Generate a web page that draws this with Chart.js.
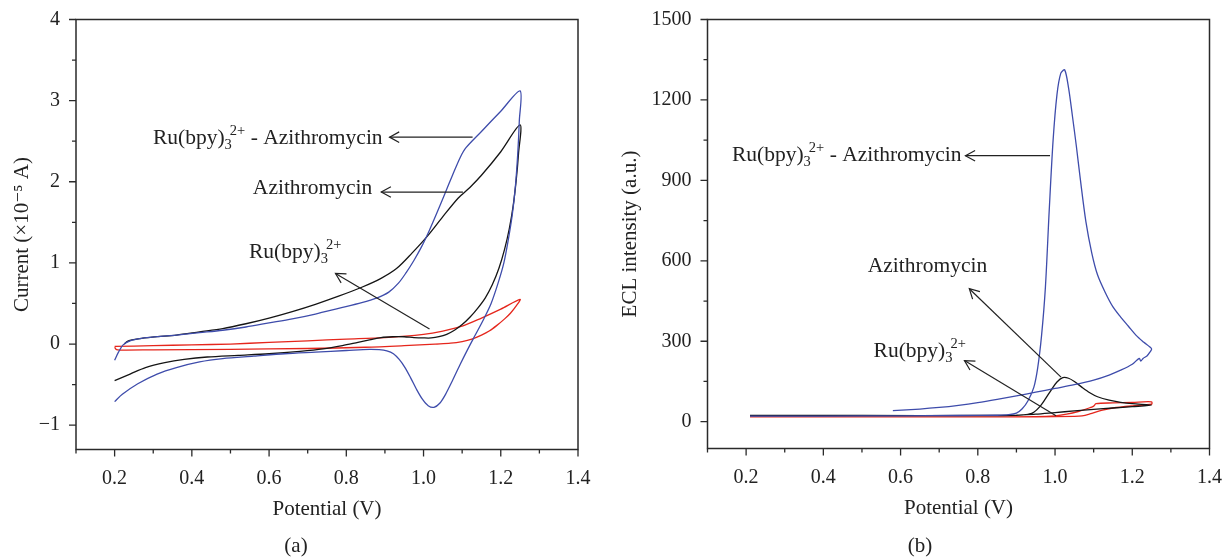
<!DOCTYPE html>
<html>
<head>
<meta charset="utf-8">
<script src="https://cdn.jsdelivr.net/npm/chart.js@4.4.1/dist/chart.umd.min.js"></script>
<style>
  html, body { margin: 0; padding: 0; background: #fff; }
  #wrap { position: relative; width: 1225px; height: 558px; }
  canvas { position: absolute; top: 0; }
  #chartA { left: 0; }
  #chartB { left: 612px; }
</style>
</head>
<body>
<div id="wrap">
  <canvas id="chartA" width="612" height="558"></canvas>
  <canvas id="chartB" width="613" height="558"></canvas>
</div>
<script>
// ---- panel (a): cyclic voltammograms, potential (V) / current (x1e-5 A)
// Ru(bpy)3 2+ + azithromycin (blue)
const cvMixV = [0.200,0.210,0.222,0.240,0.270,0.310,0.360,0.420,0.480,0.540,0.600,0.660,0.720,0.780,0.840,0.880,0.910,0.935,0.955,0.975,0.995,1.015,1.035,1.055,1.075,1.095,1.110,1.150,1.200,1.250,
  1.248,1.244,1.238,1.230,1.220,1.208,1.193,1.175,1.155,1.135,1.115,1.095,1.075,1.057,1.042,1.027,1.012,0.997,0.982,0.967,0.952,0.937,0.922,0.905,0.885,0.860,0.800,0.720,0.640,0.560,0.480,0.420,0.360,0.310,0.260,0.220,0.200];
const cvMixI = [-0.20,-0.10,-0.01,0.04,0.07,0.09,0.11,0.14,0.17,0.21,0.26,0.31,0.37,0.44,0.51,0.57,0.64,0.75,0.88,1.03,1.20,1.40,1.62,1.85,2.08,2.30,2.42,2.62,2.87,3.12,
  2.75,2.35,1.95,1.60,1.30,1.00,0.75,0.50,0.30,0.12,-0.06,-0.25,-0.45,-0.62,-0.73,-0.78,-0.76,-0.68,-0.56,-0.42,-0.29,-0.19,-0.12,-0.085,-0.07,-0.065,-0.08,-0.10,-0.12,-0.15,-0.18,-0.22,-0.29,-0.37,-0.49,-0.62,-0.71];
// azithromycin (black)
const cvAziV = [0.225,0.232,0.245,0.270,0.310,0.360,0.420,0.480,0.540,0.600,0.660,0.720,0.780,0.840,0.890,0.930,0.970,1.010,1.050,1.090,1.120,1.150,1.200,1.250,
  1.246,1.240,1.232,1.222,1.210,1.195,1.178,1.160,1.140,1.120,1.100,1.080,1.060,1.040,1.020,1.000,0.975,0.950,0.920,0.890,0.860,0.830,0.790,0.740,0.680,0.600,0.520,0.440,0.380,0.330,0.280,0.240,0.200];
const cvAziI = [0.00,0.03,0.05,0.07,0.09,0.11,0.15,0.19,0.25,0.32,0.40,0.49,0.59,0.70,0.81,0.93,1.12,1.33,1.57,1.80,1.93,2.08,2.37,2.70,
  2.35,2.02,1.70,1.42,1.17,0.93,0.73,0.57,0.44,0.33,0.24,0.17,0.12,0.09,0.075,0.075,0.08,0.09,0.09,0.08,0.05,0.02,-0.02,-0.06,-0.09,-0.12,-0.14,-0.16,-0.19,-0.23,-0.29,-0.37,-0.45];
// Ru(bpy)3 2+ alone (red)
const cvRuV = [0.200,0.300,0.400,0.500,0.600,0.700,0.800,0.900,1.000,1.050,1.100,1.150,1.200,1.250,
  1.240,1.225,1.210,1.190,1.170,1.150,1.125,1.100,1.070,1.030,0.950,0.850,0.700,0.500,0.300,0.215,0.205,0.200];
const cvRuI = [-0.03,-0.02,-0.01,0.00,0.02,0.04,0.06,0.08,0.12,0.16,0.22,0.32,0.43,0.55,
  0.47,0.38,0.31,0.23,0.16,0.11,0.06,0.03,0.01,0.00,-0.02,-0.04,-0.055,-0.065,-0.072,-0.075,-0.07,-0.04];

// ---- panel (b): ECL intensity (a.u.) vs potential (V)
const eclMixV = [0.210,0.400,0.600,0.750,0.850,0.880,0.900,0.915,0.930,0.945,0.955,0.965,0.975,0.985,0.995,1.005,1.015,1.025,1.035,1.045,1.055,1.065,1.080,1.095,1.110,1.130,1.150,1.170,1.190,1.210,1.230,1.250,
  1.246,1.238,1.228,1.222,1.218,1.200,1.170,1.140,1.100,1.050,1.000,0.950,0.900,0.850,0.800,0.750,0.700,0.650,0.580];
const eclMixE = [21,21,22,23,24,26,32,48,78,128,200,320,500,790,1050,1220,1300,1312,1245,1140,1030,910,745,630,548,482,428,390,356,322,296,272,
  260,245,236,226,236,214,192,174,155,138,124,110,96,83,71,61,53,47,41];
const eclAziV = [0.210,0.500,0.800,0.900,0.930,0.945,0.960,0.975,0.990,1.005,1.020,1.035,1.050,1.070,1.090,1.110,1.140,1.170,1.200,1.250,
  1.200,1.150,1.100,1.050,1.000,0.950,0.900];
const eclAziE = [23,23,23,24,27,35,55,85,118,148,164,162,150,128,108,93,80,72,67,62,
  56,51,46,40,34,28,24];
const eclRuV = [0.210,0.500,0.800,0.950,1.000,1.030,1.060,1.090,1.100,1.106,1.150,1.200,1.250,
  1.250,1.200,1.150,1.120,1.090,1.070,1.050,0.950,0.800];
const eclRuE = [18,18,18,19,22,28,38,52,58,67,70,72,74,
  65,59,51,42,29,22,20,18,18];

// axis tick labels
const potentialTicks = ['0.2', '0.4', '0.6', '0.8', '1.0', '1.2', '1.4'];
const currentTicks = ['\u22121', '0', '1', '2', '3', '4'];
const eclTicks = ['0', '300', '600', '900', '1200', '1500'];

const FONT = '"Liberation Serif", "Times New Roman", "DejaVu Serif", serif';
const INK = '#222';
const BLUE = '#3e4cab';
const BLACK = '#151515';
const RED = '#e5261c';

const RU_MIX = [{t: 'Ru(bpy)'}, {t: '3', sub: true}, {t: '2+', sup: true}, {t: ' - Azithromycin'}];
const RU = [{t: 'Ru(bpy)'}, {t: '3', sub: true}, {t: '2+', sup: true}];
const AZI = [{t: 'Azithromycin'}];

// text: anchor on baseline (left edge, or right edge when right: true),
// arrow: tail -> head; all in data units
const notesA = [
  {parts: RU_MIX, at: [0.894, 2.46], right: true, from: [1.127, 2.55], to: [0.912, 2.55]},
  {parts: AZI, at: [0.558, 1.845], from: [1.102, 1.873], to: [0.8905, 1.873]},
  {parts: RU, at: [0.548, 1.058], from: [1.0155, 0.185], to: [0.772, 0.87]}
];
const notesB = [
  {parts: RU_MIX, at: [0.758, 972], right: true, from: [0.987, 992], to: [0.768, 992]},
  {parts: AZI, at: [0.515, 557], from: [1.0155, 166], to: [0.778, 496]},
  {parts: RU, at: [0.530, 243], from: [1.0025, 22], to: [0.7654, 228]}
];

const pts = (xs, ys) => xs.map((x, i) => ({x, y: ys[i]}));

function curve(xs, ys, color) {
  return {
    data: pts(xs, ys),
    showLine: true,
    borderColor: color,
    borderWidth: 1.3,
    pointRadius: 0,
    tension: 0.3,
    fill: false
  };
}

const BIG = '21.5px ' + FONT;
const SMALL = '14.5px ' + FONT;

// draws text with Ru(bpy)3 2+ style sub/superscripts; returns end x
function drawRich(ctx, x, y, parts, dry) {
  let cx = x;
  let subEnd = null;
  parts.forEach(p => {
    if (p.sub) {
      ctx.font = SMALL;
      if (!dry) ctx.fillText(p.t, cx, y + 5);
      subEnd = cx + ctx.measureText(p.t).width;
      cx = subEnd;
    } else if (p.sup) {
      ctx.font = SMALL;
      const sx = subEnd !== null ? subEnd - 2 : cx;
      if (!dry) ctx.fillText(p.t, sx, y - 9);
      cx = Math.max(cx, sx + ctx.measureText(p.t).width);
    } else {
      ctx.font = BIG;
      if (!dry) ctx.fillText(p.t, cx, y);
      cx += ctx.measureText(p.t).width;
    }
  });
  return cx;
}

function drawArrow(ctx, x1, y1, x2, y2) {
  ctx.beginPath();
  ctx.moveTo(x1, y1);
  ctx.lineTo(x2, y2);
  ctx.stroke();
  const a = Math.atan2(y2 - y1, x2 - x1);
  const L = 11, w = 0.5;
  ctx.beginPath();
  ctx.moveTo(x2 - L * Math.cos(a - w), y2 - L * Math.sin(a - w));
  ctx.lineTo(x2, y2);
  ctx.lineTo(x2 - L * Math.cos(a + w), y2 - L * Math.sin(a + w));
  ctx.stroke();
}

// frame, major/minor tick marks, arrows with labels, panel letter
function decorPlugin(notes, letter, letterX) {
  return {
    id: 'decor',
    afterDraw(chart) {
      const {ctx, chartArea: area} = chart;
      const xs = chart.scales.x, ys = chart.scales.y;
      ctx.save();
      ctx.strokeStyle = '#2a2a2a';
      ctx.lineWidth = 1.5;
      ctx.strokeRect(area.left, area.top, area.right - area.left, area.bottom - area.top);

      ctx.lineWidth = 1.3;
      ctx.beginPath();
      xs.ticks.forEach(t => {
        const px = xs.getPixelForValue(t.value);
        const len = t.label !== '' ? 7 : 4;
        ctx.moveTo(px, area.bottom);
        ctx.lineTo(px, area.bottom + len);
      });
      ys.ticks.forEach(t => {
        if (t.value === ys.min) return;
        const py = ys.getPixelForValue(t.value);
        const len = t.label !== '' ? 7 : 4;
        ctx.moveTo(area.left, py);
        ctx.lineTo(area.left - len, py);
      });
      ctx.stroke();

      ctx.fillStyle = INK;
      ctx.strokeStyle = INK;
      ctx.lineWidth = 1.2;
      ctx.textAlign = 'left';
      ctx.textBaseline = 'alphabetic';
      notes.forEach(n => {
        drawArrow(ctx,
          xs.getPixelForValue(n.from[0]), ys.getPixelForValue(n.from[1]),
          xs.getPixelForValue(n.to[0]), ys.getPixelForValue(n.to[1]));
        let tx = xs.getPixelForValue(n.at[0]);
        const ty = ys.getPixelForValue(n.at[1]);
        if (n.right) tx -= drawRich(ctx, 0, ty, n.parts, true);
        drawRich(ctx, tx, ty, n.parts, false);
      });

      ctx.font = '21px ' + FONT;
      ctx.textAlign = 'center';
      ctx.textBaseline = 'middle';
      ctx.fillText(letter, letterX, 546);
      ctx.restore();
    }
  };
}

function makeChart(id, datasets, yOpts, yTitle, yTitlePad, yWidth, padding, notes, letter, letterX) {
  return new Chart(document.getElementById(id), {
    type: 'scatter',
    data: {datasets},
    plugins: [decorPlugin(notes, letter, letterX)],
    options: {
      responsive: false,
      animation: false,
      layout: {padding},
      plugins: {legend: {display: false}, tooltip: {enabled: false}},
      scales: {
        x: {
          type: 'linear',
          min: 0.1,
          max: 1.4,
          grid: {display: false, drawTicks: false},
          border: {display: false},
          ticks: {
            stepSize: 0.1,
            autoSkip: false,
            maxRotation: 0,
            padding: 17,
            color: INK,
            font: {family: FONT, size: 20},
            callback: v => {
              const k = Math.round(v * 10);
              return k % 2 === 0 ? potentialTicks[k / 2 - 1] : '';
            }
          },
          title: {display: true, text: 'Potential (V)', color: INK, font: {family: FONT, size: 21}, padding: 0},
          afterFit: s => { s.height = 73; s.paddingLeft = 0; s.paddingRight = 0; }
        },
        y: Object.assign({
          type: 'linear',
          grid: {display: false, drawTicks: false},
          border: {display: false},
          title: {display: true, text: yTitle, color: INK, font: {family: FONT, size: 21}, padding: {top: yTitlePad, bottom: 0}},
          afterFit: s => { s.width = yWidth; s.paddingTop = 0; s.paddingBottom = 0; }
        }, yOpts)
      }
    }
  });
}

makeChart('chartA',
  [curve(cvMixV, cvMixI, BLUE), curve(cvAziV, cvAziI, BLACK), curve(cvRuV, cvRuI, RED)],
  {
    min: -1.3,
    max: 4,
    ticks: {
      stepSize: 0.5, autoSkip: false, padding: 16, color: INK,
      font: {family: FONT, size: 20},
      callback: v => Number.isInteger(v) ? currentTicks[v + 1] : ''
    }
  },
  'Current (\u00d710\u207b\u2075 A)', 10, 76,
  {left: 0, top: 19.5, right: 34, bottom: 35.5},
  notesA, '(a)', 296);

makeChart('chartB',
  [curve(eclMixV, eclMixE, BLUE), curve(eclAziV, eclAziE, BLACK), curve(eclRuV, eclRuE, RED)],
  {
    min: -100,
    max: 1500,
    ticks: {
      stepSize: 150, autoSkip: false, padding: 16, color: INK,
      font: {family: FONT, size: 20},
      callback: v => (v >= 0 && v % 300 === 0) ? eclTicks[v / 300] : ''
    }
  },
  'ECL intensity (a.u.)', 5.5, 95.5,
  {left: 0, top: 19.5, right: 15.5, bottom: 36.5},
  notesB, '(b)', 308);
</script>
</body>
</html>
